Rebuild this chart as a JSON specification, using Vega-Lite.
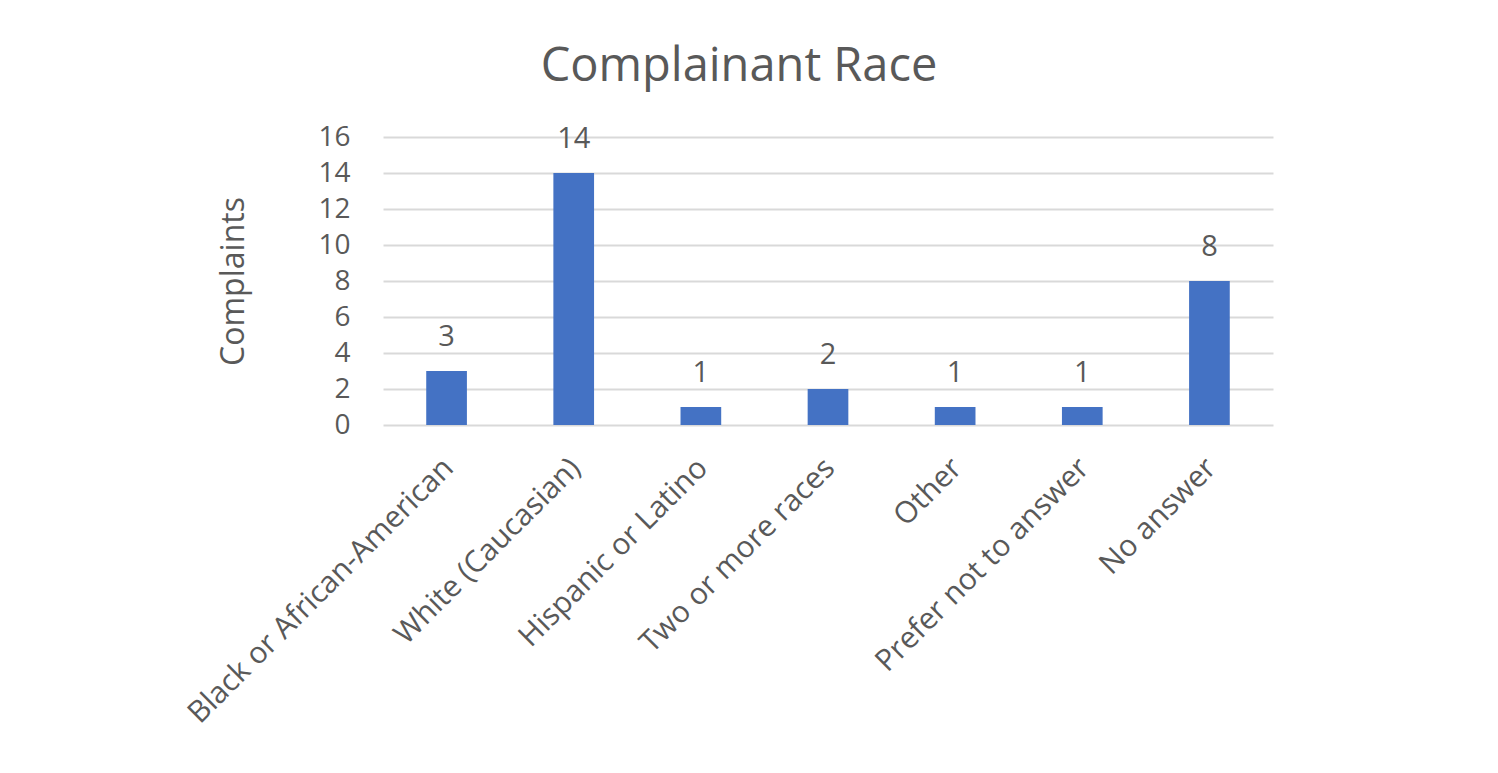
{
  "$schema": "https://vega.github.io/schema/vega-lite/v6.json",
  "autosize": "none",
  "width": 890,
  "height": 288,
  "padding": {"left": 383, "top": 137, "right": 225, "bottom": 348},
  "background": "#ffffff",
  "title": {
    "text": "Complainant Race",
    "font": "Open Sans",
    "fontSize": 47,
    "fontWeight": "normal",
    "color": "#595959",
    "anchor": "middle",
    "baseline": "alphabetic",
    "offset": -5,
    "dx": -89
  },
  "data": {
    "values": [
      {"race": "Black or African-American", "complaints": 3},
      {"race": "White (Caucasian)", "complaints": 14},
      {"race": "Hispanic or Latino", "complaints": 1},
      {"race": "Two or more races", "complaints": 2},
      {"race": "Other", "complaints": 1},
      {"race": "Prefer not to answer", "complaints": 1},
      {"race": "No answer", "complaints": 8}
    ]
  },
  "encoding": {
    "x": {
      "field": "race",
      "type": "nominal",
      "sort": null,
      "scale": {"paddingInner": 0.68, "paddingOuter": 0.34},
      "axis": {
        "title": null,
        "labelAngle": -45,
        "labelAlign": "right",
        "labelBaseline": "middle",
        "labelFont": "Open Sans",
        "labelFontSize": 30,
        "labelColor": "#595959",
        "labelPadding": 38,
        "labelOffset": 2,
        "labelLimit": 0,
        "ticks": false,
        "domain": false,
        "grid": false
      }
    },
    "y": {
      "field": "complaints",
      "type": "quantitative",
      "scale": {"domain": [0, 16], "nice": false},
      "axis": {
        "title": "Complaints",
        "titleFont": "Open Sans",
        "titleFontSize": 32,
        "titleFontWeight": "normal",
        "titleColor": "#595959",
        "titleAngle": -90,
        "titleAlign": "center",
        "titleBaseline": "alphabetic",
        "titleX": -140,
        "titleY": 144,
        "values": [0, 2, 4, 6, 8, 10, 12, 14, 16],
        "labelFont": "Open Sans",
        "labelFontSize": 28,
        "labelColor": "#595959",
        "labelPadding": 33,
        "ticks": false,
        "domain": false,
        "grid": true,
        "gridColor": "#d9d9d9",
        "gridWidth": 2
      }
    }
  },
  "layer": [
    {"mark": {"type": "bar", "color": "#4472C4"}},
    {
      "mark": {
        "type": "text",
        "font": "Open Sans",
        "fontSize": 29,
        "color": "#595959",
        "baseline": "alphabetic",
        "dy": -25
      },
      "encoding": {"text": {"field": "complaints", "type": "quantitative"}}
    }
  ],
  "config": {"view": {"stroke": null}}
}
